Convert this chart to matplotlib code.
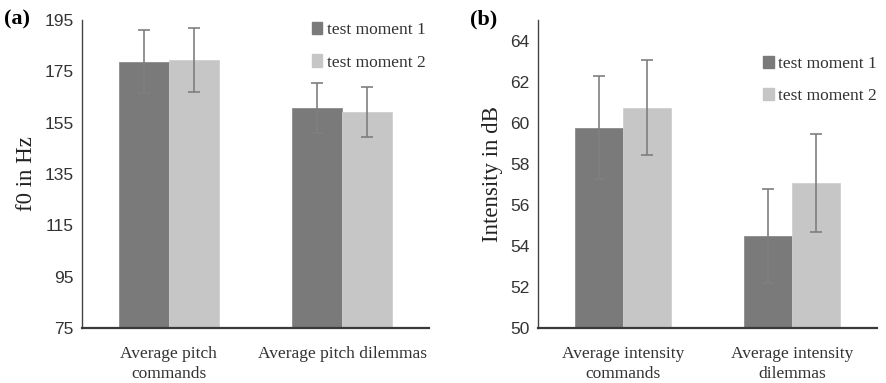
import numpy as np
import matplotlib.pyplot as plt
from matplotlib.patches import Patch

# panel (a) - pitch
pitch_cats = ['Average pitch\ncommands', 'Average pitch dilemmas']
pitch_m1 = [178.7, 160.8]
pitch_m1_err = [12.3, 9.7]
pitch_m2 = [179.3, 159.2]
pitch_m2_err = [12.5, 9.8]
pitch_ticks = [75, 95, 115, 135, 155, 175, 195]

# panel (b) - intensity
int_cats = ['Average intensity\ncommands', 'Average intensity\ndilemmas']
int_m1 = [59.75, 54.47]
int_m1_err = [2.5, 2.3]
int_m2 = [60.73, 57.06]
int_m2_err = [2.3, 2.4]
int_ticks = [50, 52, 54, 56, 58, 60, 62, 64]

labels = ['test moment 1', 'test moment 2']
dark = '#7a7a7a'
light = '#c6c6c6'
errc = '#7f7f7f'
serif = 'Liberation Serif'
sans = 'Liberation Sans'

fig = plt.figure(figsize=(8.87, 3.83), dpi=100)
axa = fig.add_axes([0.0924, 0.1436, 0.3913, 0.8042])
axb = fig.add_axes([0.6065, 0.1436, 0.3822, 0.8042])


def draw(ax, cats, m1, e1, m2, e2, ticks, ylim, w, ylabel):
    x = np.arange(len(cats))
    ekw = dict(ecolor=errc, elinewidth=1.2, capsize=4, capthick=1.2)
    ax.bar(x - w / 2, m1, w, color=dark, edgecolor='#8c8c8c', linewidth=0.6,
           yerr=e1, error_kw=ekw)
    ax.bar(x + w / 2, m2, w, color=light, edgecolor='#d0d0d0', linewidth=0.6,
           yerr=e2, error_kw=ekw)
    ax.set_xlim(-0.5, 1.5)
    ax.set_ylim(*ylim)
    ax.set_yticks(ticks)
    ax.set_yticklabels([str(t) for t in ticks], fontfamily=sans, fontsize=12.5,
                       color='#333333')
    ax.set_xticks(x)
    ax.set_xticklabels(cats, fontfamily=serif, fontsize=12.5, color='#333333',
                       linespacing=1.35)
    ax.tick_params(length=0, pad=6)
    ax.tick_params(axis='x', pad=13)
    ax.set_ylabel(ylabel, fontfamily=serif, fontsize=16.5, color='#222222', labelpad=5)
    for s in ['top', 'right']:
        ax.spines[s].set_visible(False)
    ax.spines['left'].set_color('#444444')
    ax.spines['left'].set_linewidth(1.0)
    ax.spines['bottom'].set_color('#3a3a3a')
    ax.spines['bottom'].set_linewidth(1.6)


draw(axa, pitch_cats, pitch_m1, pitch_m1_err, pitch_m2, pitch_m2_err,
     pitch_ticks, (75, 195), 0.288, 'f0 in Hz')
draw(axb, int_cats, int_m1, int_m1_err, int_m2, int_m2_err,
     int_ticks, (50, 65), 0.283, 'Intensity in dB')

handles = [Patch(color=dark), Patch(color=light)]
for ax, anchor in [(axa, (1.035, 1.045)), (axb, (1.045, 0.935))]:
    ax.legend(handles, labels, loc='upper right', bbox_to_anchor=anchor,
              frameon=False, handlelength=0.6, handleheight=0.7,
              handletextpad=0.25, labelspacing=0.95,
              prop={'family': serif, 'size': 12.5})
    for t in ax.get_legend().get_texts():
        t.set_color('#333333')

fig.text(0.004, 0.948, '(a)', fontfamily=serif, fontweight='bold', fontsize=16,
         va='center', ha='left')
fig.text(0.530, 0.948, '(b)', fontfamily=serif, fontweight='bold', fontsize=16,
         va='center', ha='left')

fig.savefig('out.png', dpi=100)
